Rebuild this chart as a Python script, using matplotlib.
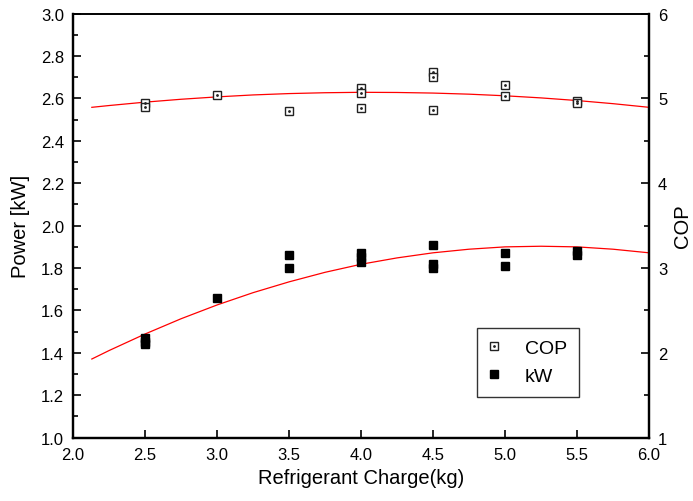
import numpy as np
import matplotlib.pyplot as plt
from matplotlib.ticker import MultipleLocator

plt.rcParams['font.family'] = ['Liberation Sans', 'DejaVu Sans']

# ---- donnees ----
charge_cop = [2.5, 2.5, 3.0, 3.5, 4.0, 4.0, 4.0, 4.5, 4.5, 4.5, 5.0, 5.0, 5.5, 5.5]
cop = [4.95, 4.90, 5.04, 4.85, 5.12, 5.07, 4.89, 5.31, 5.25, 4.86, 5.16, 5.03, 4.97, 4.95]

charge_kw = [2.5, 2.5, 2.5, 3.0, 3.5, 3.5, 4.0, 4.0, 4.0, 4.5, 4.5, 4.5, 5.0, 5.0, 5.5, 5.5]
kw = [1.47, 1.45, 1.44, 1.66, 1.86, 1.80, 1.87, 1.85, 1.83, 1.91, 1.82, 1.80, 1.87, 1.81, 1.88, 1.86]

# courbes de tendance (rouges)
x_fit = [2.13, 2.25, 2.5, 2.75, 3.0, 3.25, 3.5, 3.75, 4.0, 4.25, 4.5, 4.75, 5.0, 5.25, 5.5, 5.75, 6.0]
cop_fit = [4.896, 4.917, 4.957, 4.991, 5.019, 5.042, 5.058, 5.068, 5.073, 5.071, 5.064,
           5.051, 5.032, 5.007, 4.976, 4.939, 4.896]
kw_fit = [1.371, 1.411, 1.489, 1.561, 1.626, 1.684, 1.735, 1.780, 1.818, 1.848, 1.872,
          1.889, 1.900, 1.903, 1.900, 1.889, 1.872]

fig = plt.figure(figsize=(6.93, 5.02), dpi=100)
ax = fig.add_axes([0.1055, 0.1262, 0.831, 0.8445])
ax2 = ax.twinx()

# puissance (axe gauche)
ax.plot(x_fit, kw_fit, color='red', lw=0.9)
h_kw, = ax.plot(charge_kw, kw, 's', color='black', ms=6.3, mec='black')

# COP (axe droit)
ax2.plot(x_fit, cop_fit, color='red', lw=0.9)
h_sq, = ax2.plot(charge_cop, cop, 's', mfc='white', mec='#222222', mew=1.0, ms=5.8)
h_dot, = ax2.plot(charge_cop, cop, 'o', color='#222222', ms=1.0)

ax.set_xlim(2.0, 6.0)
ax.set_ylim(1.0, 3.0)
ax2.set_ylim(1, 6)

ax.xaxis.set_major_locator(MultipleLocator(0.5))
ax.yaxis.set_major_locator(MultipleLocator(0.2))
ax.yaxis.set_minor_locator(MultipleLocator(0.1))
ax2.yaxis.set_major_locator(MultipleLocator(1))
ax2.yaxis.set_minor_locator(MultipleLocator(0.5))
ax.xaxis.set_major_formatter(plt.FormatStrFormatter('%.1f'))
ax.yaxis.set_major_formatter(plt.FormatStrFormatter('%.1f'))

ax.tick_params(axis='y', which='major', direction='in', length=6, width=1.2,
               labelsize=12, pad=6.5)
ax.tick_params(axis='x', which='major', direction='in', length=6, width=1.2,
               labelsize=12, pad=7)
ax.tick_params(axis='y', which='minor', direction='in', length=3.5, width=1.2)
ax.tick_params(axis='x', which='minor', bottom=False)
ax2.tick_params(axis='y', which='major', direction='in', length=6, width=1.2,
                labelsize=12, pad=6.5)
ax2.tick_params(axis='y', which='minor', direction='in', length=3.5, width=1.2)

for a in (ax, ax2):
    for s in ['left', 'right', 'bottom']:
        a.spines[s].set_linewidth(1.6)
    a.spines['top'].set_linewidth(1.2)

ax.set_xlabel('Refrigerant Charge(kg)', fontsize=14.5, labelpad=4)
ax.set_ylabel('Power [kW]', fontsize=14.5, labelpad=8)
ax2.set_ylabel('COP', fontsize=14.5, labelpad=4)

leg = ax2.legend([(h_sq, h_dot), h_kw], ['COP', 'kW'], loc='lower left',
                 bbox_to_anchor=(0.701, 0.096), fontsize=14, fancybox=False,
                 edgecolor='black', handlelength=0.6, handletextpad=1.28,
                 borderpad=0.6, labelspacing=0.55, borderaxespad=0)
leg.get_frame().set_linewidth(1.0)

plt.savefig('out.png', dpi=100)
